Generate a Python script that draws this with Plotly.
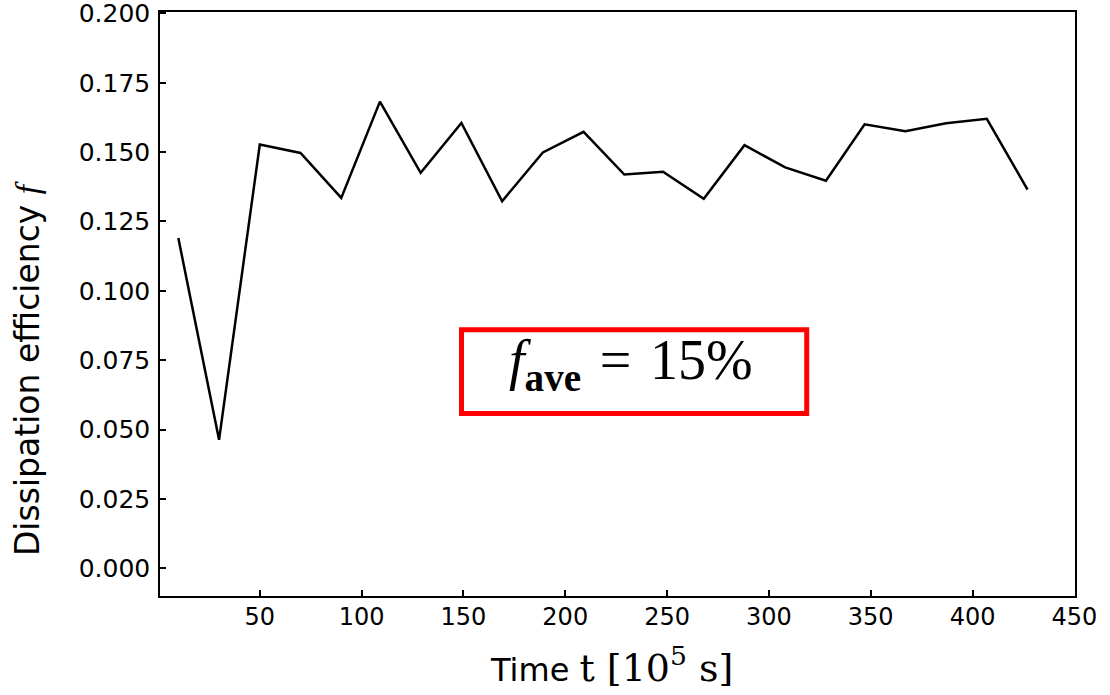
import plotly.graph_objects as go

# Data
time_t = [10, 30, 50, 70, 90, 109, 129, 149, 169, 189, 209, 229, 248, 268,
          288, 308, 328, 347, 367, 387, 407, 427]
efficiency_f = [0.1190, 0.0463, 0.1527, 0.1497, 0.1335, 0.1682, 0.1425, 0.1605,
                0.1323, 0.1499, 0.1573, 0.1419, 0.1429, 0.1332, 0.1525, 0.1445,
                0.1397, 0.1600, 0.1575, 0.1604, 0.1620, 0.1365]
x_ticks = [50, 100, 150, 200, 250, 300, 350, 400, 450]
y_ticks = [0.000, 0.025, 0.050, 0.075, 0.100, 0.125, 0.150, 0.175, 0.200]

fig = go.Figure()
fig.add_trace(go.Scatter(x=time_t, y=efficiency_f, mode="lines",
                         line=dict(color="black", width=2.5), showlegend=False))

axis_common = dict(showline=True, linecolor="black", linewidth=1.5, mirror=True,
                   ticks="inside", ticklen=6, tickwidth=1.5, tickcolor="black",
                   showgrid=False, zeroline=False, automargin=False,
                   ticklabeloverflow="allow")

fig.update_xaxes(range=[1, 450.3], tickvals=x_ticks,
                 ticktext=[str(v) for v in x_ticks],
                 tickfont=dict(family="DejaVu Sans", size=24, color="black"),
                 ticklabelstandoff=-2, **axis_common)
fig.update_yaxes(range=[-0.01, 0.2005], tickvals=y_ticks,
                 ticktext=[f"{v:.3f}" for v in y_ticks],
                 tickfont=dict(family="DejaVu Sans", size=25, color="black"),
                 ticklabelstandoff=3, **axis_common)

fig.update_layout(
    width=1110, height=695,
    margin=dict(l=160, r=35, t=12, b=99),
    paper_bgcolor="white", plot_bgcolor="white",
    shapes=[dict(type="rect", xref="paper", yref="paper",
                 x0=0.3295, x1=0.7068, y0=0.3125, y1=0.4558,
                 line=dict(color="#ff0000", width=5), fillcolor="rgba(0,0,0,0)")],
    annotations=[
        dict(xref="paper", yref="paper", x=0.5153, y=0.397, showarrow=False,
             xanchor="center", yanchor="middle",
             text="<i>f</i><sub><b>ave</b></sub>\u200a = \u200a15%",
             font=dict(family="Liberation Serif", size=56, color="black")),
        dict(xref="paper", yref="paper", x=-0.144, y=0.389, showarrow=False,
             xanchor="center", yanchor="middle", textangle=-90,
             text="Dissipation efficiency <span style='font-family:Liberation Serif'><i>f</i></span>",
             font=dict(family="DejaVu Sans", size=33, color="black")),
        dict(xref="paper", yref="paper", x=0.4934, y=-0.118, showarrow=False,
             xanchor="center", yanchor="middle",
             text="Time <span style='font-family:DejaVu Serif;font-size:38px'>t [10<sup>5</sup> s]</span>",
             font=dict(family="DejaVu Sans", size=32, color="black")),
    ],
)

fig.write_html("out.html", config={"displayModeBar": False},
               post_script="document.body.style.margin='0';document.body.style.padding='0';")
